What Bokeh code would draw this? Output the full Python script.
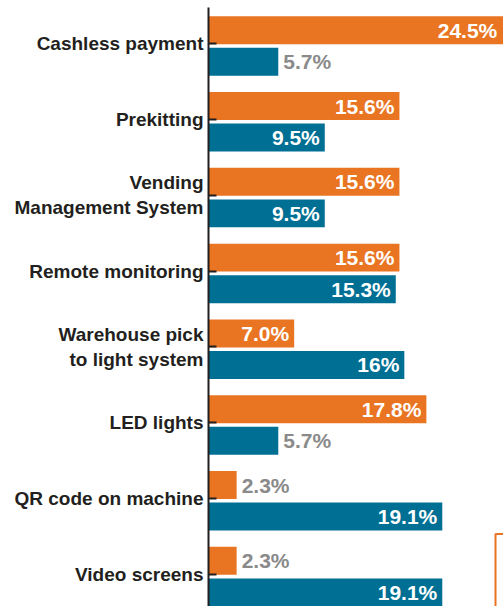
from bokeh.plotting import figure
from bokeh.models import Range1d, FixedTicker, ColumnDataSource, BoxAnnotation
from bokeh.core.properties import value
from bokeh.embed import file_html
from bokeh.resources import INLINE

categories = ["Cashless payment", "Prekitting", "Vending\nManagement System",
              "Remote monitoring", "Warehouse pick\nto light system", "LED lights",
              "QR code on machine", "Video screens"]
orange_values = [24.5, 15.6, 15.6, 15.6, 7.0, 17.8, 2.3, 2.3]
blue_values = [5.7, 9.5, 9.5, 15.3, 16, 5.7, 19.1, 19.1]
orange_labels = ["24.5%", "15.6%", "15.6%", "15.6%", "7.0%", "17.8%", "2.3%", "2.3%"]
blue_labels = ["5.7%", "9.5%", "9.5%", "15.3%", "16%", "5.7%", "19.1%", "19.1%"]

ORANGE = "#E97522"
BLUE = "#006F94"
GRAY = "#8A8A8A"
DARK = "#231F20"
FONT = "Liberation Sans"

PX = 12.24   # pixels per percent point
ROW = 75.8   # pixels per category row
W, H = 503, 606
LEFT, TOP = 208, 7
FIRST = 45.5  # pixel centre of the first category
X_END = (W - LEFT) / PX
p = figure(width=W, height=H, output_backend="svg", toolbar_location=None,
           x_range=Range1d(0, X_END),
           y_range=Range1d((H - FIRST) / ROW, -(FIRST - TOP) / ROW),
           min_border_left=LEFT, min_border_right=0, min_border_top=TOP, min_border_bottom=0)
p.outline_line_color = None
p.xgrid.visible = False
p.ygrid.visible = False
p.xaxis.visible = False

idx = list(range(len(categories)))
OFF = 0.208
BAR_H = 0.369


def make_source(vals, labels, shift):
    inside = [v >= 7 for v in vals]
    return ColumnDataSource(dict(
        y=[i + shift for i in idx],
        v=vals,
        tx=[min(v, X_END - 0.1) if ins else v for v, ins in zip(vals, inside)],
        txt=labels,
        xo=[-5 if ins else 5 for ins in inside],
        al=["right" if ins else "left" for ins in inside],
        col=["white" if ins else GRAY for ins in inside],
    ))


src_o = make_source(orange_values, orange_labels, -OFF)
src_b = make_source(blue_values, blue_labels, OFF)

for src, color in ((src_o, ORANGE), (src_b, BLUE)):
    p.hbar(y="y", left=0, right="v", height=BAR_H, source=src,
           fill_color=color, line_color=None)
    p.text(x="tx", y="y", text="txt", x_offset="xo", text_align="al",
           text_color="col", text_baseline="middle", source=src,
           text_font=value(FONT), text_font_style="bold", text_font_size="21px")

TICK_SHIFT = -0.03
ticks = [round(i + TICK_SHIFT, 3) for i in idx]
ax = p.yaxis[0]
ax.ticker = FixedTicker(ticks=ticks)
ax.major_label_overrides = {t: c for t, c in zip(ticks, categories)}
ax.axis_line_color = DARK
ax.axis_line_width = 2
ax.major_tick_in = 8
ax.major_tick_out = 0
ax.major_tick_line_color = DARK
ax.major_tick_line_width = 2
ax.minor_tick_line_color = None
ax.major_label_standoff = 5
ax.major_label_text_font = FONT
ax.major_label_text_font_style = "bold"
ax.major_label_text_font_size = "19px"
ax.major_label_text_color = DARK
ax.major_label_text_line_height = 1.2

box = BoxAnnotation(left=(495 - LEFT) / PX, right=X_END + 2,
                    top=(533.5 - FIRST) / ROW, bottom=9,
                    fill_color=None, fill_alpha=0, line_color=ORANGE,
                    line_alpha=1.0, line_width=2)
p.add_layout(box)

open("out.html", "w").write(file_html(p, INLINE))
